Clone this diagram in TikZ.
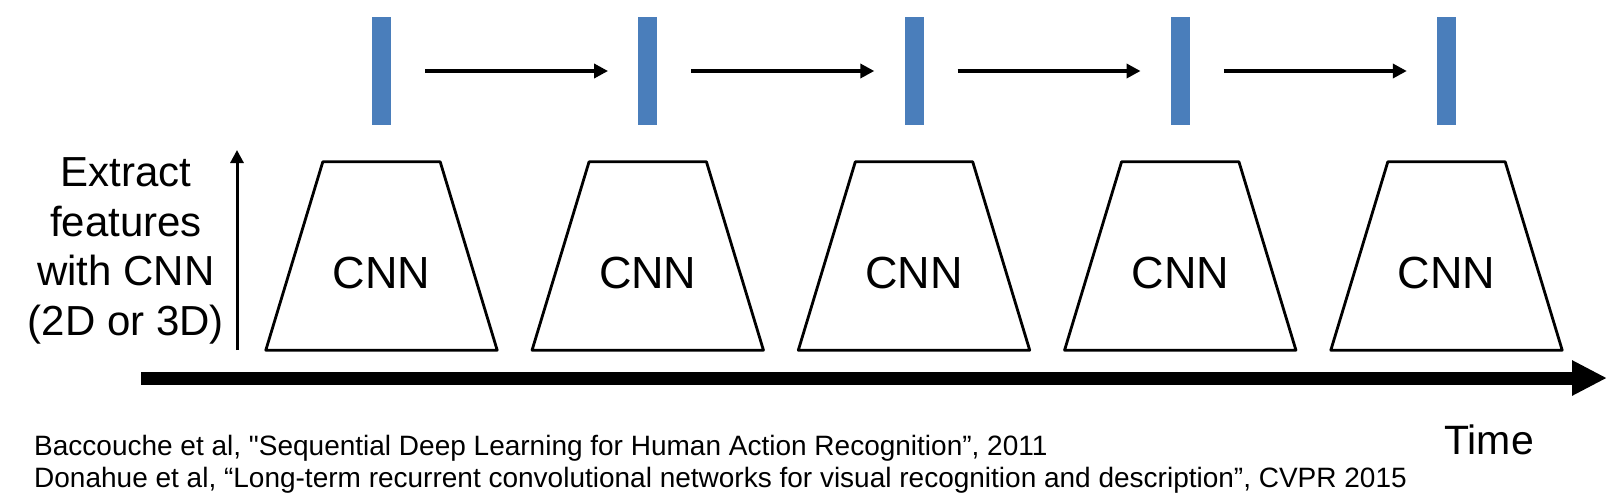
\documentclass[tikz,border=0pt]{standalone}
\usepackage{fontspec}
\setmainfont{Liberation Sans}
\usetikzlibrary{arrows.meta,positioning}

\definecolor{featblue}{RGB}{74,126,187}

\begin{document}
\begin{tikzpicture}[x=1pt, y=-1pt, >=Stealth,
    cnnbox/.style={minimum width=231pt, minimum height=188pt, inner sep=0pt,
        font=\fontsize{45}{54}\selectfont, text height=64pt, text depth=0pt},
    cnnline/.style={draw, line width=2.8pt, line join=round},
    featbar/.style={fill=featblue, minimum width=19pt, minimum height=108pt, inner sep=0pt},
    stepline/.style={-{Triangle[length=14pt, width=14pt]}, line width=4pt,
        shorten <=34pt, shorten >=30pt},
    refline/.style={font=\fontsize{28}{33}\selectfont, anchor=base west, inner sep=0pt}]

    % --- 画布 ---
    \useasboundingbox (0,0) rectangle (1616,496);

    % --- CNN 与特征向量 ---
    \foreach \i in {1,...,5} {
        \node[cnnbox]  (cnn\i)  at ({381.5+266.25*(\i-1)}, 256) {CNN};
        \node[featbar] (feat\i) at ({381.5+266.25*(\i-1)}, 71) {};
        \draw[cnnline] (cnn\i.south west) -- ([xshift=57pt]cnn\i.north west)
            -- ([xshift=-57pt]cnn\i.north east) -- (cnn\i.south east) -- cycle;
    }

    % --- 特征之间的箭头 ---
    \foreach \i [evaluate=\i as \j using int(\i+1)] in {1,...,4}
        \draw[stepline] (feat\i) -- (feat\j);

    % --- 左侧说明 ---
    \coordinate (up0) at (237, 350);
    \coordinate (up1) at (237, 150);
    \draw[line width=3pt, -{Triangle[length=13pt, width=13pt]}] (up0) -- (up1);
    \node[align=center, font=\fontsize{42}{49.5}\selectfont] (extract) at (126, 251)
        {Extract\\features\\with CNN\\(2D or 3D)};

    % --- 时间轴 ---
    \coordinate (t0) at (141, 378);
    \coordinate (t1) at (1607, 378);
    \draw[line width=13pt, -{Triangle[length=35pt, width=33pt]}] (t0) -- (t1);
    \node[font=\fontsize{41}{49}\selectfont, anchor=base] (time) at (1489, 454) {Time};

    % --- 参考文献 ---
    \node[refline] (ref1) at (34, 455)
        {Baccouche et al, \textquotedbl Sequential Deep Learning for Human Action Recognition”, 2011};
    \node[refline] (ref2) at (34, 487)
        {Donahue et al, “Long-term recurrent convolutional networks for visual recognition and description”, CVPR 2015};

\end{tikzpicture}
\end{document}
